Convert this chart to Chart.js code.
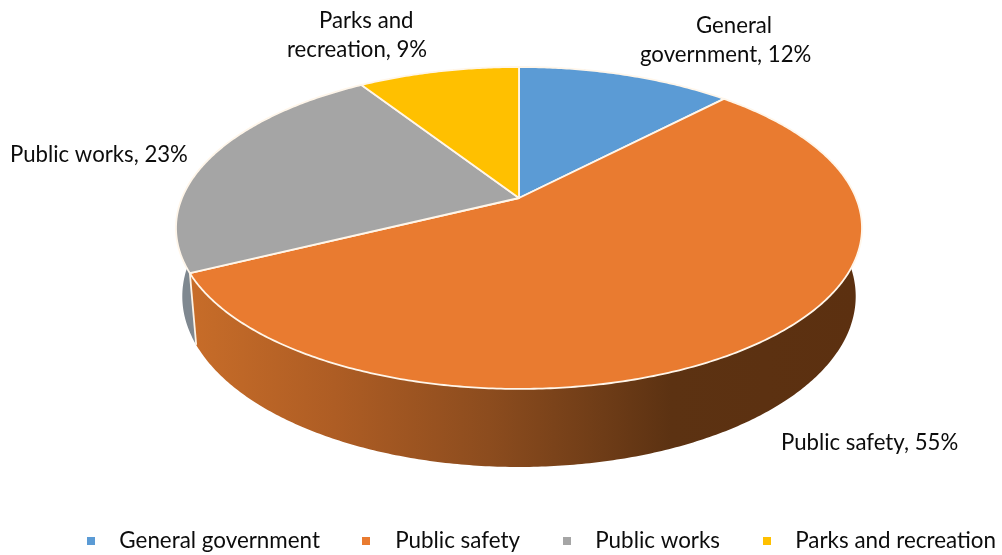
<!DOCTYPE html>
<html>
<head>
<meta charset="utf-8">
<title>Expenditures by function</title>
<script src="https://cdn.jsdelivr.net/npm/chart.js@4"></script>
<style>
	html, body { margin: 0; padding: 0; background: #fff; }
	#wrap { width: 1002px; height: 555px; }
</style>
</head>
<body>
<div id="wrap"><canvas id="mycanvas" width="1002" height="555"></canvas></div>
<script>
var categories = ['General government', 'Public safety', 'Public works', 'Parks and recreation'];
var shares = [12, 55, 23, 9];
var topColors = ['#5b9bd5', '#e97b30', '#a5a5a5', '#ffc000'];

var fontFamily = 'Lato, "Open Sans", sans-serif';
var textColor = '#0c0c0c';

// where each slice's caption goes: start x of every line, and its baseline
var captionSpots = [
	[[696, 33], [640, 62]],
	[[781, 450]],
	[[10, 162]],
	[[319, 28], [287, 57]]
];

// perspective of the disc: apex of the slices, axes, tilt, wall height
var disc = { x: 519, y: 198, a: 337, b: 155.4, k: 0.186, wall: 68.4, sink: 0.018 };

function project(theta, r, z) {
	var X = r * Math.cos(theta);
	var Y = r * Math.sin(theta);
	var w = 1 - disc.k * Y + disc.sink * z;
	return {
		x: disc.x + disc.a * X / w,
		y: disc.y + (disc.b * Y + disc.wall * z) / w
	};
}

function rim(ctx, from, to, z) {
	var steps = Math.max(2, Math.ceil(Math.abs(to - from) / 0.01));
	for (var i = 0; i <= steps; i++) {
		var p = project(from + (to - from) * i / steps, 1, z);
		ctx.lineTo(p.x, p.y);
	}
}

function wallFill(ctx, i) {
	var g = ctx.createLinearGradient(185, 0, 860, 0);
	if (i === 1) {
		g.addColorStop(0, '#c86d29');
		g.addColorStop(0.22, '#ae5d24');
		g.addColorStop(0.45, '#8c4c1e');
		g.addColorStop(0.62, '#6e3c17');
		g.addColorStop(0.72, '#5c3212');
		g.addColorStop(1, '#5c3010');
		return g;
	}
	if (i === 2) {
		return '#7f8890';
	}
	return topColors[i];
}

// the library works out each slice's angles, this plugin draws them on the tilted disc
var tiltedPie = {
	id: 'tiltedPie',
	beforeDatasetDraw: function(chart, args) {
		var ctx = chart.ctx;
		var arcs = chart.getDatasetMeta(args.index).data;

		ctx.save();
		arcs.forEach(function(arc, i) {
			ctx.beginPath();
			rim(ctx, arc.startAngle, arc.endAngle, 0);
			rim(ctx, arc.endAngle, arc.startAngle, 1);
			ctx.closePath();
			ctx.fillStyle = wallFill(ctx, i);
			ctx.fill();
		});

		// light edge where the big slice's wall ends
		var a = project(arcs[1].endAngle, 1, 0);
		var b = project(arcs[1].endAngle, 1, 1);
		ctx.strokeStyle = '#fdf3e6';
		ctx.lineWidth = 1.8;
		ctx.beginPath();
		ctx.moveTo(a.x, a.y);
		ctx.lineTo(b.x, b.y);
		ctx.stroke();

		arcs.forEach(function(arc) {
			ctx.beginPath();
			ctx.moveTo(disc.x, disc.y);
			rim(ctx, arc.startAngle, arc.endAngle, 0);
			ctx.closePath();
			ctx.fillStyle = arc.options.backgroundColor;
			ctx.fill();
			ctx.strokeStyle = arc.options.borderColor;
			ctx.lineWidth = arc.options.borderWidth;
			ctx.lineJoin = 'round';
			ctx.stroke();
		});
		ctx.restore();
		return false;
	},
	afterDatasetsDraw: function(chart) {
		var ctx = chart.ctx;
		ctx.save();
		ctx.font = '22.2px ' + fontFamily;
		ctx.fillStyle = textColor;
		ctx.textBaseline = 'alphabetic';
		ctx.textAlign = 'left';
		categories.forEach(function(name, i) {
			var words = (name + ', ' + shares[i] + '%').split(' ');
			var spots = captionSpots[i];
			// two line captions break before the last two words
			var lines = spots.length === 2
				? [words.slice(0, -2).join(' '), words.slice(-2).join(' ')]
				: [words.join(' ')];
			lines.forEach(function(line, n) {
				ctx.fillText(line, spots[n][0], spots[n][1]);
			});
		});
		ctx.restore();
	}
};

function marker(color) {
	var c = document.createElement('canvas');
	c.width = 8;
	c.height = 8;
	var m = c.getContext('2d');
	m.fillStyle = color;
	m.fillRect(0, 0, 8, 8);
	return c;
}

var ctx = document.getElementById('mycanvas');

var pieChart = new Chart(ctx, {
	type: 'pie',
	data: {
		labels: categories,
		datasets: [{
			data: shares,
			backgroundColor: topColors,
			borderColor: '#fff6ea',
			borderWidth: 1.8
		}]
	},
	options: {
		responsive: false,
		animation: false,
		// negative so the legend row sits right down in the corner
		layout: { padding: { right: -23, bottom: -7 } },
		plugins: {
			tooltip: { enabled: false },
			legend: {
				position: 'bottom',
				align: 'end',
				labels: {
					usePointStyle: true,
					pointStyleWidth: 35,
					padding: 29,
					color: textColor,
					font: { family: fontFamily, size: 22.4 },
					generateLabels: function(chart) {
						var items = Chart.overrides.pie.plugins.legend.labels.generateLabels(chart);
						items.forEach(function(item, i) {
							item.pointStyle = marker(topColors[i]);
						});
						return items;
					}
				}
			}
		}
	},
	plugins: [tiltedPie]
});
</script>
</body>
</html>
